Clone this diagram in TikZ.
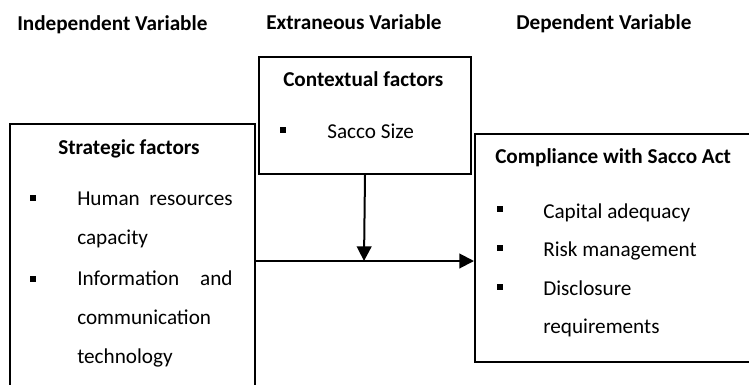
\documentclass[tikz,border=0pt]{standalone}
\usepackage{fontspec}
\setmainfont{Carlito}
\usetikzlibrary{arrows.meta}
\hyphenpenalty=10000

\tikzset{
  frame/.style={draw, line width=1.5pt, inner sep=0pt, anchor=north west},
  head/.style={font=\fontsize{15.9}{19}\selectfont\bfseries, anchor=base west, inner sep=0pt},
  txt/.style={font=\fontsize{15.9}{29.6}\selectfont, anchor=base west, inner sep=0pt},
  bul/.style={fill, minimum size=4.5pt, inner sep=0pt},
  arr/.style={line width=1.5pt, -{Triangle[length=11pt,width=11pt]}}
}

\begin{document}
\begin{tikzpicture}[x=0.75pt, y=-0.75pt]

\path[use as bounding box, clip] (0,0) rectangle (749,385);

% column heads
\node[head] (indep) at (17,31) {Independent Variable};
\node[head] (extra) at (266,30) {Extraneous Variable};
\node[head] (dep) at (516,30) {Dependent Variable};

% boxes
\node[frame, minimum width=183.75pt, minimum height=207.75pt] (strat) at (9,123) {};
\node[frame, minimum width=159pt, minimum height=87.75pt] (ctx) at (258,56) {};
\node[frame, minimum width=214.5pt, minimum height=171pt] (resp) at (474,133) {};

% extraneous
\node[head] (ctxtitle) at (283,86) {Contextual factors};
\node[bul] (b0) at (283,130) {};
\node[txt] (size) at (327,138) {Sacco Size};

% independent
\node[head] (strattitle) at (58,154) {Strategic factors};
\node[bul] (b1) at (33,198) {};
\node[txt, text width=116.5pt, align=justify] (hr) at (77,205) {Human resources capacity};
\node[bul] (b2) at (33,279) {};
\node[txt, text width=116.5pt, align=justify] (ict) at (77,285) {Information and communication technology};

% dependent
\node[head] (resptitle) at (495,163) {Compliance with Sacco Act};
\node[bul] (b3) at (500,209) {};
\node[txt] (cap) at (543,218) {Capital adequacy};
\node[bul] (b4) at (500,248) {};
\node[txt] (risk) at (543,256) {Risk management};
\node[bul] (b5) at (500,287) {};
\node[txt, font=\fontsize{15.9}{28.7}\selectfont, text width=150pt, align=left] (disc) at (543,295) {Disclosure\\requirements};

% links
\coordinate (meet) at (364,261);
\draw[arr] (ctx.south) -- (meet);
\draw[arr] (strat.east |- meet) -- (resp.west |- meet);

\end{tikzpicture}
\end{document}
